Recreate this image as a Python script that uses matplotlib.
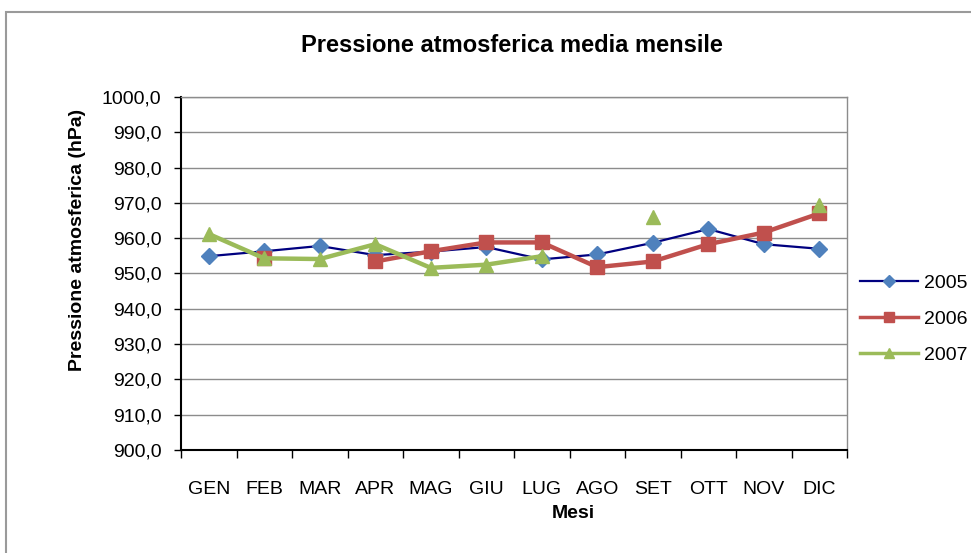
import numpy as np
import matplotlib
matplotlib.use("Agg")
import matplotlib.pyplot as plt
from matplotlib.lines import Line2D
from matplotlib.patches import Rectangle

plt.rcParams['font.family'] = ['Liberation Sans', 'DejaVu Sans']

# data (hPa)
mesi = ['GEN', 'FEB', 'MAR', 'APR', 'MAG', 'GIU', 'LUG', 'AGO', 'SET', 'OTT', 'NOV', 'DIC']
p2005 = [954.9, 956.3, 957.8, 955.2, 956.2, 957.5, 954.0, 955.4, 958.7, 962.6, 958.3, 957.0]
p2006 = [np.nan, 954.5, np.nan, 953.4, 956.3, 958.8, 958.8, 951.8, 953.4, 958.3, 961.6, 967.0]
p2007 = [961.2, 954.3, 954.1, 958.3, 951.6, 952.5, 954.9, np.nan, 966.0, np.nan, np.nan, 969.4]
anni = ['2005', '2006', '2007']
yticks = np.arange(900, 1001, 10)

W, H = 971, 553
fig = plt.figure(figsize=(W / 100, H / 100), dpi=100)

# outer chart border (cut off on the right and bottom like the screenshot)
fig.patches.append(Rectangle((6 / W, -0.1), 2, 1 - 12 / H + 0.1, transform=fig.transFigure,
                             fill=False, edgecolor='#9a9a9a', linewidth=1.5))

ax = fig.add_axes([181 / W, 1 - 450 / H, (847 - 181) / W, (450 - 97) / H])

x = np.arange(len(mesi))
ax.plot(x, p2005, color='#000080', lw=1.6, marker='D', ms=8.5,
        mfc='#4F81BD', mec='#4F81BD', zorder=3)
ax.plot(x, p2006, color='#C0504D', lw=3.2, marker='s', ms=10.5,
        mfc='#C0504D', mec='#C0504D', zorder=4)
ax.plot(x, p2007, color='#9BBB59', lw=3.2, marker='^', ms=10.5,
        mfc='#9BBB59', mec='#9BBB59', zorder=5)

ax.set_xlim(-0.5, len(mesi) - 0.5)
ax.set_ylim(900, 1000)
ax.set_yticks(yticks)
ax.set_yticklabels([f'{v:.1f}'.replace('.', ',') for v in yticks], fontsize=14)
ax.yaxis.grid(True, color='#8c8c8c', lw=1)
ax.set_axisbelow(True)

# tick marks between categories, labels at category centres
ax.set_xticks(np.arange(-0.5, len(mesi), 1))
ax.set_xticklabels([])
ax.set_xticks(x, minor=True)
ax.set_xticklabels(mesi, minor=True, fontsize=14)
ax.tick_params(axis='x', which='major', direction='out', length=6, width=1, color='k')
ax.tick_params(axis='x', which='minor', length=0, pad=22)
ax.tick_params(axis='y', direction='out', length=5, width=1, color='k', pad=9)

for s in ['left', 'bottom']:
    ax.spines[s].set_color('k')
    ax.spines[s].set_linewidth(1.5)
for s in ['right', 'top']:
    ax.spines[s].set_color('#8c8c8c')
    ax.spines[s].set_linewidth(1)

fig.text(573 / W, 1 - 513 / H, 'Mesi', ha='center', va='center',
         fontsize=14, fontweight='bold')
fig.text(77 / W, 1 - 240 / H, 'Pressione atmosferica (hPa)', rotation=90,
         ha='center', va='center', fontsize=14, fontweight='bold')
fig.text(512 / W, 1 - 45 / H, 'Pressione atmosferica media mensile',
         ha='center', va='center', fontsize=17, fontweight='bold')

handles = [
    Line2D([], [], color='#000080', lw=1.6, marker='D', ms=6, mfc='#4F81BD', mec='#4F81BD'),
    Line2D([], [], color='#C0504D', lw=2.5, marker='s', ms=7, mfc='#C0504D', mec='#C0504D'),
    Line2D([], [], color='#9BBB59', lw=2.5, marker='^', ms=7, mfc='#9BBB59', mec='#9BBB59'),
]
fig.legend(handles, anni, loc='center left', bbox_to_anchor=(860 / W, 1 - 319 / H),
           frameon=False, fontsize=14, handlelength=3.0, handletextpad=0.3,
           labelspacing=0.95, borderpad=0, borderaxespad=0)

fig.savefig('out.png', dpi=100)
